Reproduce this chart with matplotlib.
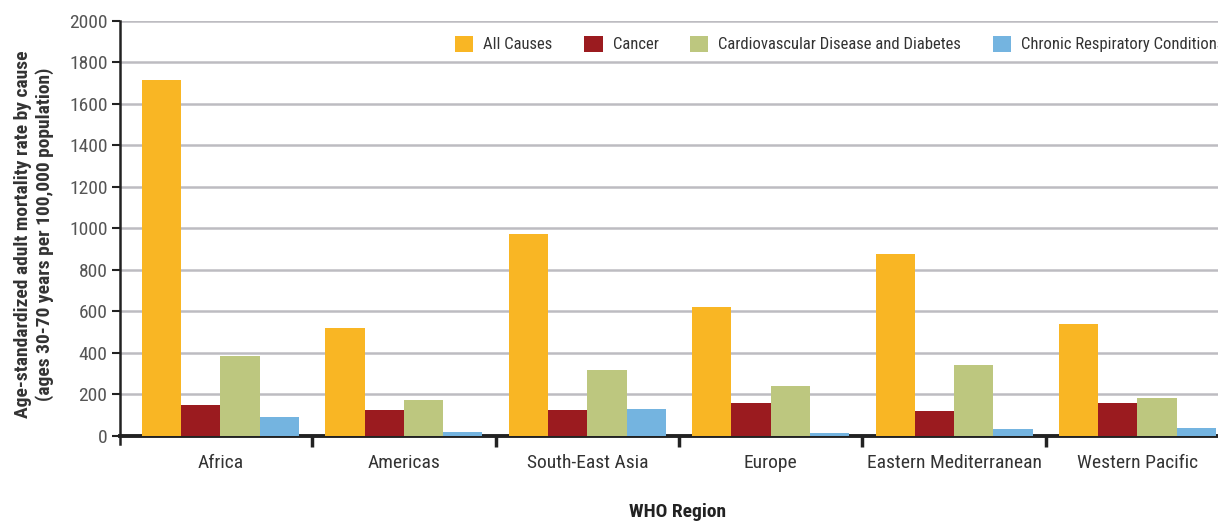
import numpy as np
import matplotlib
matplotlib.use('Agg')
import matplotlib.pyplot as plt

plt.rcParams['font.family'] = ['Roboto Condensed', 'DejaVu Sans']
plt.rcParams['font.stretch'] = 'condensed'

regions = ['Africa', 'Americas', 'South-East Asia', 'Europe',
           'Eastern Mediterranean', 'Western Pacific']
series_names = ['All Causes', 'Cancer', 'Cardiovascular Disease and Diabetes',
                'Chronic Respiratory Conditions']
all_causes = [1715, 520, 973, 620, 877, 540]
cancer = [150, 126, 126, 160, 121, 160]
cardio = [385, 170, 318, 240, 343, 180]
respiratory = [88, 18, 131, 13, 33, 38]
colors = ['#F9B624', '#9B1B1F', '#BDC77F', '#74B4E0']

values = [all_causes, cancer, cardio, respiratory]

fig = plt.figure(figsize=(12.18, 5.23), dpi=100)
# axes run a bit past the right edge, like the reference (legend gets clipped)
ax = fig.add_axes([0.0985, 0.1669, 0.9257, 0.7935])

x = np.arange(len(regions))
bw = 0.214
for i, (name, vals, col) in enumerate(zip(series_names, values, colors)):
    ax.bar(x + (i - 1.5) * bw, vals, width=bw, color=col, label=name, zorder=3)

ax.set_xlim(-0.548, 5.6)
ax.set_ylim(0, 2000)
ax.set_yticks(np.arange(0, 2001, 200))
ax.yaxis.grid(True, color='#BDBCC1', linewidth=1.8, zorder=0)
ax.set_axisbelow(True)

ax.set_xticks(x)
ax.set_xticklabels(regions, fontsize=14, color='#333333')
ax.set_xticks(np.arange(0.5, 5.0, 1.0), minor=True)
ax.tick_params(axis='x', which='major', length=0, pad=13)
ax.tick_params(axis='x', which='minor', length=8, width=2.5, color='#222222', direction='out')
ax.tick_params(axis='y', length=6, width=1.5, color='#222222', labelsize=14,
               labelcolor='#555555', pad=3)

for s in ['top', 'right']:
    ax.spines[s].set_visible(False)
ax.spines['bottom'].set_linewidth(2.8)
ax.spines['bottom'].set_color('#222222')
ax.spines['left'].set_linewidth(1.8)
ax.spines['left'].set_color('#222222')
ax.spines['left'].set_bounds(-40, 2000)
ax.spines['left'].set_clip_on(False)

fig.text(34 / 1218, 1 - 234 / 523,
         'Age-standardized adult mortality rate by cause\n(ages 30-70 years per 100,000 population)',
         rotation=90, ha='center', va='center', fontsize=14, fontweight='bold',
         color='#333333', linespacing=1.25)
fig.text(678 / 1218, 1 - 512 / 523, 'WHO Region', ha='center', va='center',
         fontsize=14, fontweight='bold', color='#222222')

ax.legend(loc='center left', bbox_to_anchor=(440 / 1218, 1 - 44 / 523),
          bbox_transform=fig.transFigure, ncol=4, frameon=False, fontsize=12,
          handlelength=1.1, handleheight=1.1, handletextpad=0.6,
          columnspacing=1.9, labelcolor='#333333')

fig.savefig('out.png', dpi=100)
